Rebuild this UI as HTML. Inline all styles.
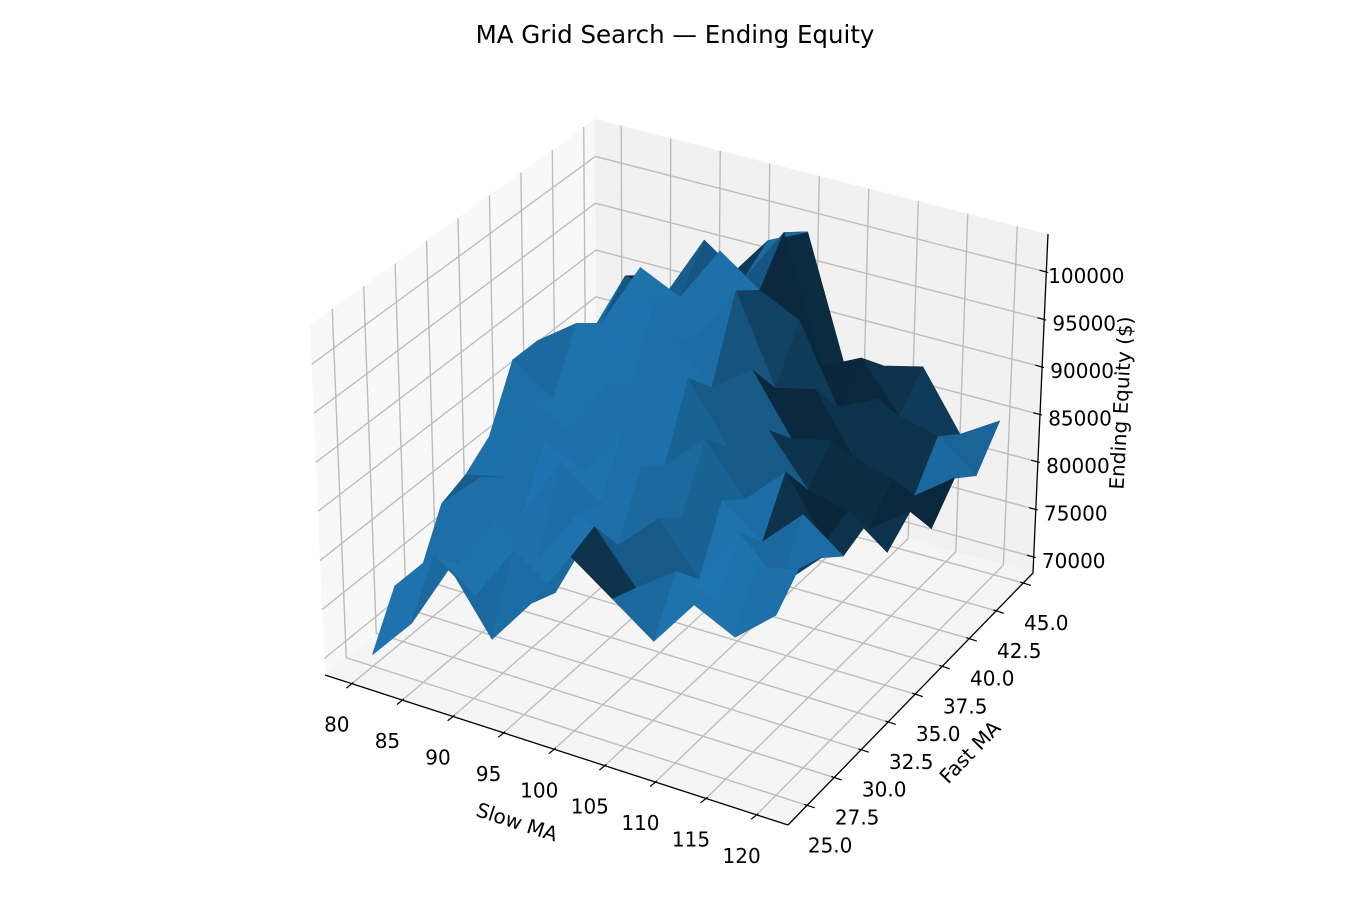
<!DOCTYPE html>
<html><head><meta charset="utf-8"><style>
html,body{margin:0;padding:0;background:#fff;}
svg{display:block;font-family:"DejaVu Sans","Liberation Sans",sans-serif;}
</style></head><body>
<svg id="chart" width="1350" height="900" viewBox="0 0 1350 900" xmlns="http://www.w3.org/2000/svg">
<text x="675" y="43" font-size="24.5" text-anchor="middle" fill="#000">MA Grid Search — Ending Equity</text>
<g id="panes"></g>
<g id="grid"></g>
<g id="surface"></g>
<g id="axes"></g>
<g id="labels"></g>
<text x="517" y="829" font-size="20" text-anchor="middle" transform="rotate(18 517 822)">Slow MA</text>
<text x="970" y="759" font-size="20" text-anchor="middle" transform="rotate(-46 970 752)">Fast MA</text>
<text x="1121" y="410" font-size="20" text-anchor="middle" transform="rotate(-87 1121 403)">Ending Equity ($)</text>
</svg>
<script>
// ---- data ----
const slowValues = [80,84,88,92,96,100,104,108,112,116,120];
const fastValues = [25,27,29,31,33,35,37,39,41,43,45];
// equity in thousands, rows = fast, cols = slow
const equityK = [
 [69.5,74,81,75,80,86,83,80,85,83,86.5],
 [74.5,79,76,82,79,87,82,85,83,88,89],
 [73.5,76,82,79,85,83,87,82,88,84,88],
 [79,83,80,87,84,89,85,88,85,89,86],
 [80,81,86,84,90,87,91,86,90,84,87],
 [82,87,85,91,88,94,88,91,86,85,82],
 [88,85,91,89,95,91,94,88,89,81,84],
 [88,91,89,96,93,99,90,91,85,84,80],
 [86,89,96,94,100,97,95,87,89,80,83],
 [84,92,91,98,95,101,88,90,85,84,81],
 [83,90,88,92,97,99,86,87,88,82,84.5]
];
const xTicks = [80,85,90,95,100,105,110,115,120];
const yTicks = [25,27.5,30,32.5,35,37.5,40,42.5,45];
const zTicks = [70000,75000,80000,85000,90000,95000,100000];

// ---- projection ----
const XR=[77.35,123.1], YR=[23.23,45.9], ZR=[68316,104000];
const F00=[325,675],F10=[788,825],F01=[597,453],F11=[1033,573];
const T00=[310,325],T10=[788,470],T01=[595,119],T11=[1048,234];
function bil(a,b,c,d,u,v){return [a[0]*(1-u)*(1-v)+b[0]*u*(1-v)+c[0]*(1-u)*v+d[0]*u*v, a[1]*(1-u)*(1-v)+b[1]*u*(1-v)+c[1]*(1-u)*v+d[1]*u*v];}
function P(x,y,z){const u=(x-XR[0])/(XR[1]-XR[0]),v=(y-YR[0])/(YR[1]-YR[0]),w=(z-ZR[0])/(ZR[1]-ZR[0]);
 const f=bil(F00,F10,F01,F11,u,v),t=bil(T00,T10,T01,T11,u,v);return [f[0]+(t[0]-f[0])*w,f[1]+(t[1]-f[1])*w];}
const NS="http://www.w3.org/2000/svg";
function mk(tag,attrs,parent){const e=document.createElementNS(NS,tag);for(const k in attrs)e.setAttribute(k,attrs[k]);parent.appendChild(e);return e;}
function pts(a){return a.map(p=>p[0].toFixed(1)+','+p[1].toFixed(1)).join(' ');}

// panes
const panes=document.getElementById('panes');
let e;
e=mk('polygon',{points:pts([F00,F01,T01,T00]),fill:'#f8f8f8'},panes);


e=mk('polygon',{points:pts([F01,F11,T11,T01]),fill:'#f1f1f1'},panes);


e=mk('polygon',{points:pts([F00,F10,F11,F01]),fill:'#f5f5f5'},panes);



// grid
const grid=document.getElementById('grid');
function gl(a,b,name){const l=mk('line',{x1:a[0],y1:a[1],x2:b[0],y2:b[1],stroke:'#bdbdbd','stroke-width':1.4},grid);
 
 }
xTicks.forEach(x=>{gl(P(x,YR[0],ZR[0]),P(x,YR[1],ZR[0]),'x-grid-floor');gl(P(x,YR[1],ZR[0]),P(x,YR[1],ZR[1]),'x-grid-wall');});
yTicks.forEach(y=>{gl(P(XR[1],y,ZR[0]),P(XR[0],y,ZR[0]),'y-grid-floor');gl(P(XR[0],y,ZR[0]),P(XR[0],y,ZR[1]),'y-grid-wall');});
zTicks.forEach(z=>{gl(P(XR[0],YR[0],z),P(XR[0],YR[1],z),'z-grid-left');gl(P(XR[0],YR[1],z),P(XR[1],YR[1],z),'z-grid-back');});

// surface
const surf=document.getElementById('surface');
const L=[-0.6667,-0.6667,0.3333];
const faces=[];
for(let j=0;j<fastValues.length-1;j++)for(let i=0;i<slowValues.length-1;i++){
 const c=[[i,j],[i+1,j],[i+1,j+1],[i,j+1]].map(([a,b])=>[slowValues[a],fastValues[b],equityK[b][a]*1000]);
 const d1=[c[2][0]-c[0][0],c[2][1]-c[0][1],c[2][2]-c[0][2]],d2=[c[3][0]-c[1][0],c[3][1]-c[1][1],c[3][2]-c[1][2]];
 let n=[d1[1]*d2[2]-d1[2]*d2[1],d1[2]*d2[0]-d1[0]*d2[2],d1[0]*d2[1]-d1[1]*d2[0]];
 if(n[2]<0)n=n.map(q=>-q);
 const m=Math.hypot(...n);const dot=(n[0]*L[0]+n[1]*L[1]+n[2]*L[2])/m;
 const s=0.3+0.7*(dot+1)/2;
 let cu=0,cv=0,cw=0;c.forEach(p=>{cu+=(p[0]-XR[0])/(XR[1]-XR[0]);cv+=(p[1]-YR[0])/(YR[1]-YR[0]);cw+=(p[2]-ZR[0])/(ZR[1]-ZR[0]);});
 const key=0.433*cu-0.75*cv+0.375*cw;
 faces.push({c,s,key});
}
faces.sort((a,b)=>a.key-b.key);
faces.forEach(f=>{const col='rgb('+Math.round(31*f.s)+','+Math.round(119*f.s)+','+Math.round(180*f.s)+')';
 const p=mk('polygon',{points:pts(f.c.map(q=>P(q[0],q[1],q[2]))),fill:col,stroke:col,'stroke-width':0.7,'stroke-linejoin':'round'},surf);
 
 });

// axes
const ax=document.getElementById('axes');
function al(a,b,name,w){const l=mk('line',{x1:a[0],y1:a[1],x2:b[0],y2:b[1],stroke:'#000','stroke-width':w||1.3},ax);
 
 }
al(F00,F10,'x-axis-line');al(F10,F11,'y-axis-line');al(F11,T11,'z-axis-line');
const lab=document.getElementById('labels');
function tx(x,y,s,name){const t=mk('text',{x:x,y:y,'font-size':20,'text-anchor':'middle'},lab);t.textContent=s;
 
 }
xTicks.forEach(x=>{const p=P(x,YR[0],ZR[0]);const d=[-0.775,0.632];
 al([p[0]-2*d[0],p[1]-2*d[1]],[p[0]+7*d[0],p[1]+7*d[1]],'x-tick',1.2);
 tx(p[0]-15,p[1]+48,String(x),'x-tick-label');});
yTicks.forEach(y=>{const p=P(XR[1],y,ZR[0]);const d=[0.951,0.308];
 al([p[0]-3*d[0],p[1]-3*d[1]],[p[0]+8*d[0],p[1]+8*d[1]],'y-tick',1.2);
 tx(p[0]+23,p[1]+47,y.toFixed(1),'y-tick-label');});
zTicks.forEach(z=>{const p=P(XR[1],YR[1],z);const d=[-0.964,-0.265];
 al([p[0]-2*d[0],p[1]-2*d[1]],[p[0]+7*d[0],p[1]+7*d[1]],'z-tick',1.2);
 tx(p[0]+40,p[1]+11,String(z),'z-tick-label');});
</script>
</body></html>
